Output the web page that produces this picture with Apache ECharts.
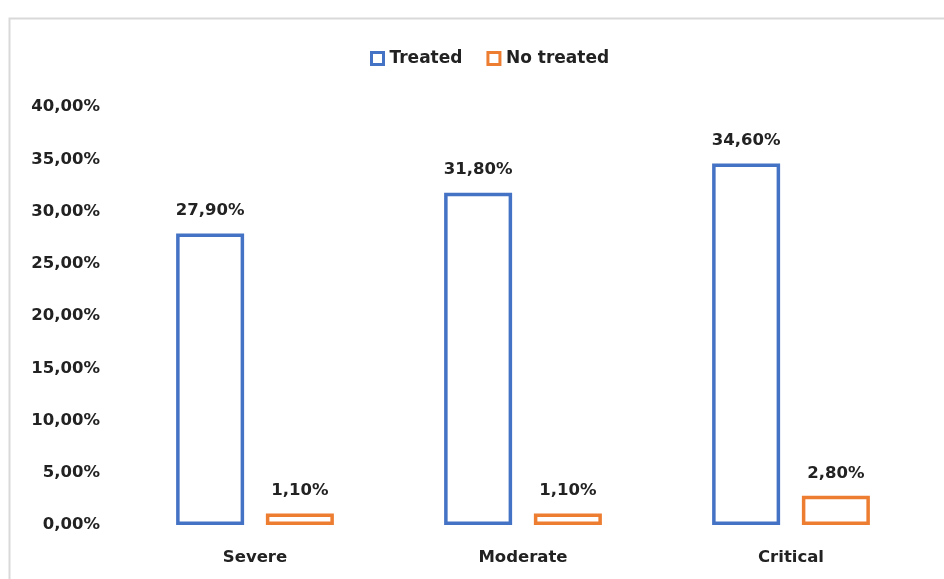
<!DOCTYPE html>
<html>
<head>
<meta charset="utf-8">
<script src="https://cdn.jsdelivr.net/npm/echarts@6/dist/echarts.min.js"></script>
<style>
  html, body { margin: 0; padding: 0; background: #fff; }
  #chart { width: 944px; height: 579px; }
</style>
</head>
<body>
<div id="chart"></div>
<script>
// Severity categories and percentages per group
const categories = ['Severe', 'Moderate', 'Critical'];
const treated = [27.9, 31.8, 34.6];
const noTreated = [1.1, 1.1, 2.8];
const seriesNames = ['Treated', 'No treated'];

const FONT = '"DejaVu Sans", "Open Sans", sans-serif';
const fmt = v => v.toFixed(2).replace('.', ',') + '%';

const chart = echarts.init(document.getElementById('chart'), null, { renderer: 'canvas' });

function barSeries(name, data, color) {
  return {
    name: name,
    type: 'bar',
    data: data,
    barWidth: 68,
    barGap: '32%',
    itemStyle: { color: '#ffffff', borderColor: color, borderWidth: 3.5 },
    label: {
      show: true,
      position: 'top',
      distance: 14,
      formatter: p => fmt(p.value),
      color: '#222',
      fontFamily: FONT,
      fontWeight: 'bold',
      fontSize: 16.5
    }
  };
}

chart.setOption({
  animation: false,
  backgroundColor: '#ffffff',
  graphic: [{
    type: 'rect',
    shape: { x: 9.5, y: 18.5, width: 960, height: 600 },
    style: { fill: 'none', stroke: '#d9d9d9', lineWidth: 2 },
    silent: true
  }],
  legend: {
    top: 45,
    left: 365,
    itemWidth: 12,
    itemHeight: 12,
    itemGap: 24,
    icon: 'rect',
    itemStyle: { borderWidth: 3 },
    textStyle: { fontFamily: FONT, fontWeight: 'bold', fontSize: 17, color: '#222', padding: [0, 0, 0, 1] },
    data: seriesNames
  },
  grid: { left: 121, right: 19, top: 107, bottom: 54, containLabel: false },
  xAxis: {
    type: 'category',
    data: categories,
    axisLine: { show: false },
    axisTick: { show: false },
    axisLabel: { margin: 24, fontFamily: FONT, fontWeight: 'bold', fontSize: 16.5, color: '#222' }
  },
  yAxis: {
    type: 'value',
    min: 0,
    max: 40,
    interval: 5,
    splitLine: { show: false },
    axisLine: { show: false },
    axisTick: { show: false },
    axisLabel: { margin: 21, formatter: fmt, fontFamily: FONT, fontWeight: 'bold', fontSize: 16.5, color: '#222' }
  },
  series: [
    barSeries(seriesNames[0], treated, '#4472c4'),
    barSeries(seriesNames[1], noTreated, '#ed7d31')
  ]
});
</script>
</body>
</html>
